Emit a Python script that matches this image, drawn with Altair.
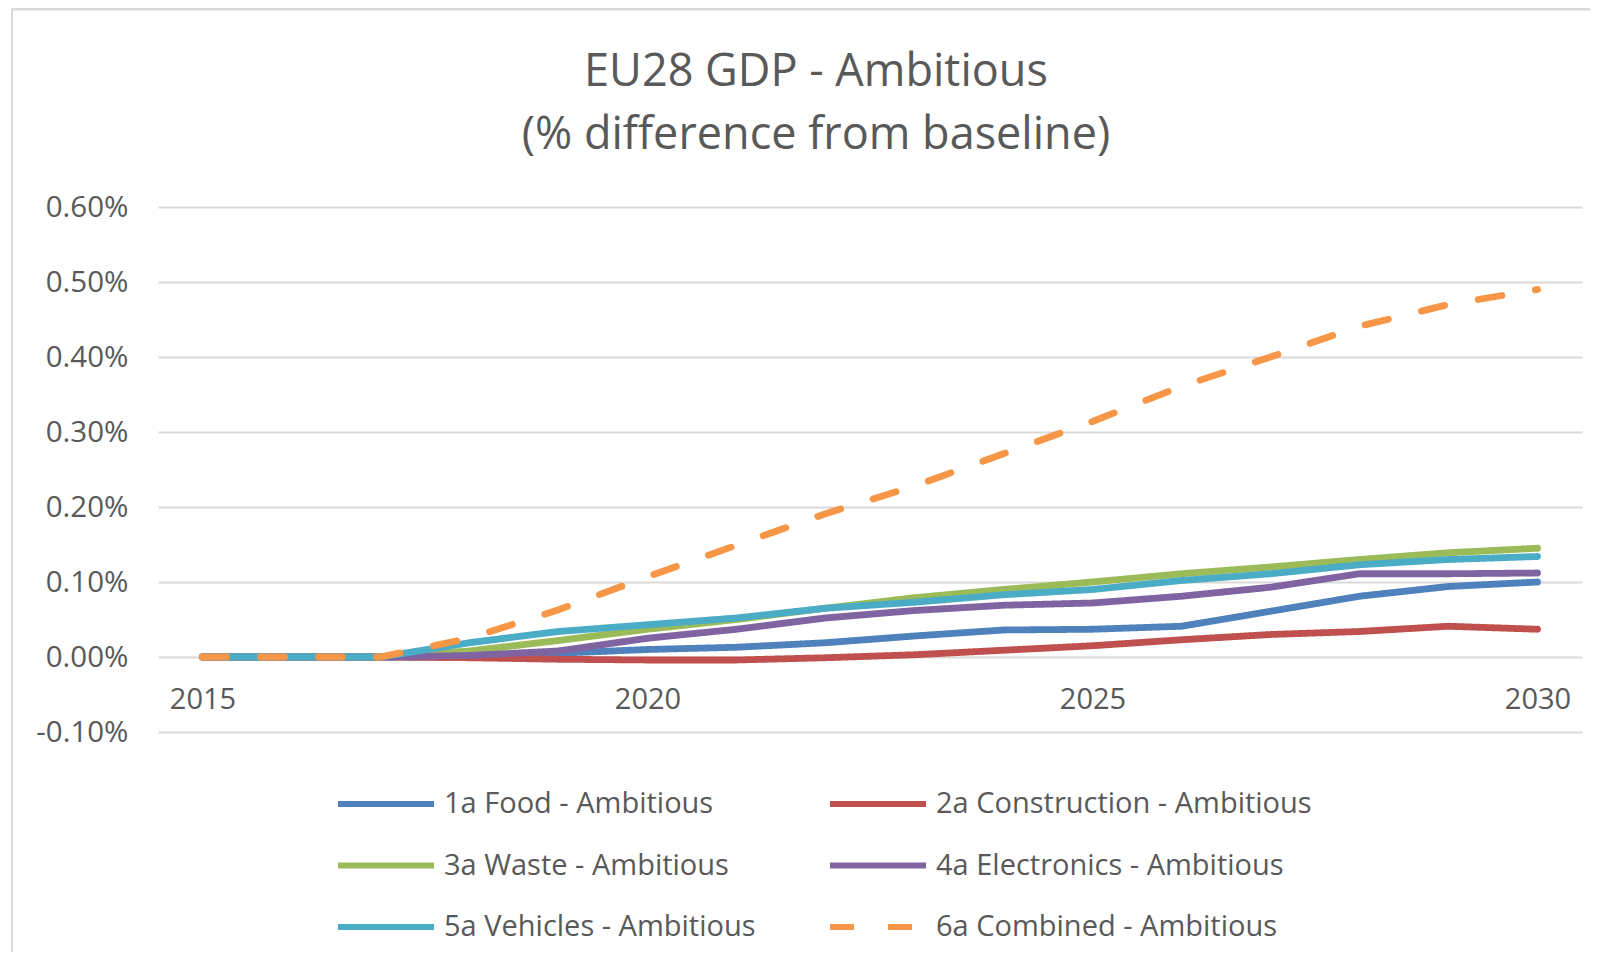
import altair as alt
import pandas as pd

years = list(range(2015, 2031))
series_names = [
    "1a Food - Ambitious",
    "2a Construction - Ambitious",
    "3a Waste - Ambitious",
    "4a Electronics - Ambitious",
    "5a Vehicles - Ambitious",
    "6a Combined - Ambitious",
]
# values in percent
food = [0, 0, 0, 0, 0.005, 0.010, 0.013, 0.019, 0.028, 0.036, 0.037, 0.041, 0.061, 0.081, 0.094, 0.100]
construction = [0, 0, 0, -0.001, -0.003, -0.004, -0.004, -0.001, 0.003, 0.009, 0.015, 0.023, 0.030, 0.034, 0.041, 0.037]
waste = [0, 0, 0, 0.008, 0.022, 0.037, 0.050, 0.065, 0.079, 0.090, 0.100, 0.111, 0.120, 0.130, 0.139, 0.145]
electronics = [0, 0, 0, 0.002, 0.008, 0.025, 0.037, 0.052, 0.062, 0.069, 0.072, 0.081, 0.093, 0.111, 0.111, 0.112]
vehicles = [0, 0, 0, 0.019, 0.034, 0.043, 0.052, 0.065, 0.073, 0.083, 0.090, 0.102, 0.111, 0.123, 0.130, 0.134]
combined = [0, 0, 0, 0.025, 0.063, 0.107, 0.149, 0.191, 0.228, 0.271, 0.314, 0.361, 0.400, 0.441, 0.470, 0.490]

y_ticks = [-0.001, 0.0, 0.001, 0.002, 0.003, 0.004, 0.005, 0.006]
x_ticks = [2015, 2020, 2025, 2030]

colors = ["#4F81BD", "#C0504D", "#9BBB59", "#8064A2", "#4BACC6", "#F79646"]
dashes = [[1, 0], [1, 0], [1, 0], [1, 0], [1, 0], [24, 34]]

rows = []
for name, vals in zip(series_names, [food, construction, waste, electronics, vehicles, combined]):
    for yr, v in zip(years, vals):
        rows.append({"year": yr, "value": v / 100.0, "series": name})
df = pd.DataFrame(rows)

FONT = "Open Sans"
GREY = "#595959"

legend = alt.Legend(
    title=None,
    orient="none",
    direction="horizontal",
    legendX=177,
    legendY=577,
    columns=2,
    columnPadding=71,
    rowPadding=21.5,
    clipHeight=40,
    symbolType="stroke",
    symbolSize=9216,
    symbolStrokeWidth=6,
    labelFontSize=29,
    labelFont=FONT,
    labelColor=GREY,
    labelOffset=7,
    labelLimit=600,
)

lines = alt.Chart(df).mark_line(strokeWidth=6.8, strokeCap="round", strokeJoin="round").encode(
    x=alt.X(
        "year:Q",
        scale=alt.Scale(domain=[2014.5, 2030.5], nice=False, zero=False),
        axis=alt.Axis(
            values=x_ticks, format="d", title=None, grid=False, ticks=False, domain=False,
            offset=-75, labelPadding=28, labelFontSize=29, labelFont=FONT, labelColor=GREY,
        ),
    ),
    y=alt.Y(
        "value:Q",
        scale=alt.Scale(domain=[-0.001, 0.006], nice=False, zero=False),
        axis=alt.Axis(
            values=y_ticks, title=None, domain=False, ticks=False,
            labelExpr="replace(format(datum.value, '.2%'), '\u2212', '-')",
            labelPadding=30, labelFontSize=29.5, labelFont=FONT, labelColor=GREY,
            gridColor="#d9d9d9", gridWidth=2,
        ),
    ),
    color=alt.Color("series:N", scale=alt.Scale(domain=series_names, range=colors), legend=legend),
    strokeDash=alt.StrokeDash("series:N", scale=alt.Scale(domain=series_names, range=dashes), legend=legend),
)

frame = pd.DataFrame({"a": [0]})
top_border = alt.Chart(frame).mark_rule(color="#d9d9d9", strokeWidth=3).encode(
    x=alt.value(-146), x2=alt.value(1440), y=alt.value(-198)
)
left_border = alt.Chart(frame).mark_rule(color="#d9d9d9", strokeWidth=2).encode(
    x=alt.value(-146), y=alt.value(-198), y2=alt.value(760)
)

chart = alt.layer(top_border, left_border, lines).properties(
    width=1424,
    height=525,
    autosize=alt.AutoSizeParams(type="none"),
    padding={"left": 150, "top": 199, "right": 8, "bottom": 220},
    title=alt.TitleParams(
        text=["EU28 GDP - Ambitious", "(% difference from baseline)"],
        anchor="middle",
        frame="group",
        dx=-54,
        offset=-150,
        fontSize=45,
        lineHeight=63,
        font=FONT,
        color=GREY,
        fontWeight="normal",
    ),
).configure_view(stroke=None)

chart.save("out.html", embed_options={"renderer": "svg", "actions": False})
